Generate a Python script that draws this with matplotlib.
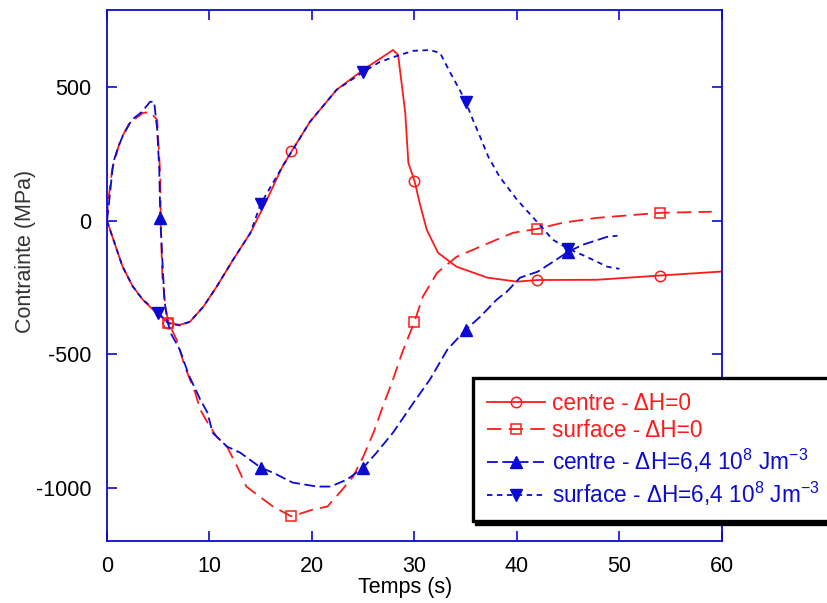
import numpy as np
import matplotlib
matplotlib.use('Agg')
import matplotlib.pyplot as plt

plt.rcParams['font.family'] = ['Liberation Sans', 'DejaVu Sans']
plt.rcParams['mathtext.fontset'] = 'custom'
plt.rcParams['mathtext.rm'] = 'Liberation Sans'
plt.rcParams['mathtext.it'] = 'Liberation Sans:italic'
plt.rcParams['mathtext.default'] = 'regular'

# centre - dH=0 (red, solid, circles)
t_c0 = [0, 1.5, 2.5, 3.5, 5, 6, 7.1, 8.1, 9.4, 10.7, 12.3, 14, 15.6, 17.1, 18, 19.8,
        22.4, 25, 27.9, 28.4, 29.1, 29.4, 30, 30.5, 31.2, 32.3, 34.1, 37.1, 40, 42,
        47.8, 54, 60]
s_c0 = [0, -170, -245, -296, -352, -382, -390, -378, -322, -247, -146, -45, 79, 202, 260, 371,
        491, 566, 640, 622, 404, 217, 150, 67, -34, -120, -172, -213, -228, -222,
        -221, -205, -190]
m_c0 = [6, 18, 30, 42, 54]

# surface - dH=0 (red, dashed, squares)
t_s0 = [0, 0.1, 0.5, 1.3, 2.2, 3.5, 4.2, 4.9, 5.2, 5.25, 5.4, 5.7, 6, 6.8, 7.6, 8.6, 9.1,
        9.8, 10.7, 11.7, 12.7, 13.6, 14.9, 16.2, 18, 20.1, 21.5, 22.7, 24, 25, 26, 26.9,
        27.9, 28.8, 30, 30.8, 32.2, 34.1, 36.4, 39.6, 42, 44.5, 47.8, 54, 59]
s_s0 = [0, 67, 191, 303, 367, 404, 408, 378, 165, -22, -210, -322, -382, -446, -547, -644, -708,
        -756, -809, -846, -921, -996, -1034, -1071, -1108, -1082, -1071, -1019, -959, -884, -794, -697,
        -595, -494, -378, -285, -195, -135, -97, -45, -30, -7, 11, 30, 34]
m_s0 = [6, 18, 30, 42, 54]

# centre - dH=6,4e8 (blue, long dashes, up triangles)
t_c1 = [0, 0.3, 0.6, 1, 1.5, 2.4, 3.4, 4.2, 4.6, 4.9, 5.1, 5.2, 5.4, 5.6, 5.9, 6.3, 7.1, 8,
        9.1, 9.8, 10.3, 11.7, 13, 15, 16.2, 18.1, 20.5, 21.8, 23.4, 25, 26.3, 27.9, 29.9,
        31.5, 33.2, 35, 36.4, 38, 39, 40.3, 42, 43.5, 45, 46.4, 48.8, 49.8]
s_c1 = [0, 105, 217, 266, 315, 378, 408, 446, 446, 341, 191, 11, -146, -296, -378, -427, -483, -580,
        -670, -719, -794, -846, -869, -925, -944, -981, -996, -996, -970, -925, -869, -794, -682,
        -595, -483, -408, -360, -296, -266, -213, -191, -154, -116, -90, -60, -56]
m_c1 = [5.2, 15, 25, 35, 45]

# surface - dH=6,4e8 (blue, short dashes, down triangles)
t_s1 = [0, 1.5, 2.5, 3.5, 5, 6, 7.1, 8.1, 9.4, 10.7, 12.3, 14, 15, 17.1, 19.8, 22.4, 25,
        26.6, 28.6, 29.9, 31.5, 32.5, 33.5, 34.4, 35, 35.7, 36.4, 37.2, 38.3, 40, 41.6,
        43.5, 45, 46.8, 48.8, 50]
s_s1 = [0, -170, -245, -296, -345, -385, -392, -378, -322, -247, -146, -45, 64, 202, 371, 491, 558,
        595, 622, 637, 640, 629, 554, 491, 446, 378, 315, 240, 165, 79, 11,
        -71, -105, -135, -172, -180]
m_s1 = [5, 15, 25, 35, 45]

xticks = [0, 10, 20, 30, 40, 50, 60]
yticks = [-1000, -500, 0, 500]

red = '#ff1a1a'
blue = '#0a0ad2'

fig = plt.figure(figsize=(8.28, 6.03), dpi=100)
ax = fig.add_axes([107/828, 1 - 541/603, 615/828, 531/603])


def idx(t, marks):
    return [t.index(m) for m in marks]


ax.plot(t_c0, s_c0, color=red, lw=1.3, marker='o', markevery=idx(t_c0, m_c0),
        ms=7.5, mfc='none', mec=red, mew=1.1, label='centre - ΔH=0')
ax.plot(t_s0, s_s0, color=red, lw=1.3, ls=(0, (8, 4)), marker='s', markevery=idx(t_s0, m_s0),
        ms=7.5, mfc='none', mec=red, mew=1.1, label='surface - ΔH=0')
ax.plot(t_c1, s_c1, color=blue, lw=1.3, ls=(0, (6, 2.5)), marker='^', markevery=idx(t_c1, m_c1),
        ms=8.5, mfc=blue, mec=blue, label='centre - ΔH=6,4 10$^{8}$ Jm$^{-3}$')
ax.plot(t_s1, s_s1, color=blue, lw=1.3, ls=(0, (3, 2.5)), marker='v', markevery=idx(t_s1, m_s1),
        ms=8.5, mfc=blue, mec=blue, label='surface - ΔH=6,4 10$^{8}$ Jm$^{-3}$')

ax.set_xlim(0, 60)
ax.set_ylim(-1200, 790)
ax.set_xticks(xticks)
ax.set_yticks(yticks)
ax.set_yticklabels([str(v) for v in yticks])
for sp in ax.spines.values():
    sp.set_color(blue)
    sp.set_linewidth(1.3)
ax.tick_params(direction='in', length=7, width=1.2, color=blue, labelsize=15.5, pad=11,
               top=True, right=True, labelcolor='black')

ax.set_xlabel('Temps (s)', fontsize=15.5)
ax.set_ylabel('Contrainte (MPa)', fontsize=15.5, color='#333333')
ax.xaxis.set_label_coords(0.485, -0.068)
ax.yaxis.set_label_coords(-0.116, 0.545)

leg = fig.legend(loc='upper left', bbox_to_anchor=(473/828, 1 - 378/603), borderaxespad=0,
                 fontsize=16.3, labelcolor='linecolor', handlelength=2.6, handletextpad=0.3,
                 borderpad=0.6, labelspacing=0.2, fancybox=False, framealpha=1,
                 edgecolor='black', shadow={'color': 'black', 'alpha': 1}, numpoints=1)
leg.get_frame().set_linewidth(2.4)

fig.savefig('out.png', dpi=100)
